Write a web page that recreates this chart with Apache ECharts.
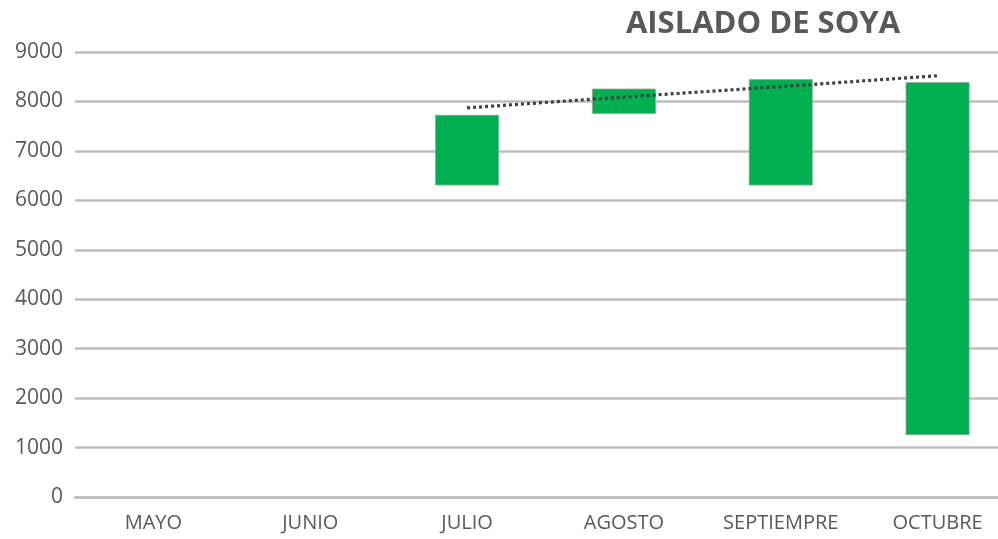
<!DOCTYPE html>
<html>
<head>
<meta charset="utf-8">
<script src="https://cdn.jsdelivr.net/npm/echarts@6/dist/echarts.min.js"></script>
<style>html,body{margin:0;padding:0;background:#fff;overflow:hidden;width:998px;height:539px;}#c{width:1016px;height:539px;}</style>
</head>
<body>
<div id="c"></div>
<script>
var categories = ['MAYO', 'JUNIO', 'JULIO', 'AGOSTO', 'SEPTIEMPRE', 'OCTUBRE'];
var barLow  = [null, null, 6300, 7750, 6300, 1250];
var barHigh = [null, null, 7730, 8260, 8450, 8390];
var trendValues = [null, null, 7870, 8090, 8300, 8520];
var yTicks = [0, 1000, 2000, 3000, 4000, 5000, 6000, 7000, 8000, 9000];

var barSpan = barHigh.map(function (h, i) { return (h == null || barLow[i] == null) ? null : h - barLow[i]; });

var chart = echarts.init(document.getElementById('c'), null, {renderer: 'canvas'});
chart.setOption({
  animation: false,
  backgroundColor: '#ffffff',
  title: {
    text: 'AISLADO DE SOYA',
    left: 758, top: 4, textAlign: 'center',
    textStyle: {fontFamily: 'Open Sans', fontWeight: 'bold', fontSize: 31, color: '#595959'}
  },
  grid: {left: 75, right: 0, top: 52, bottom: 42, containLabel: false},
  xAxis: {
    type: 'category', data: categories,
    axisLine: {show: true, lineStyle: {color: '#bfbfbf', width: 2.5}},
    axisTick: {show: false},
    axisLabel: {color: '#595959', fontSize: 20, fontFamily: 'Open Sans', margin: 16}
  },
  yAxis: {
    type: 'value', min: yTicks[0], max: yTicks[yTicks.length - 1], interval: 1000,
    axisLine: {show: false}, axisTick: {show: false},
    axisLabel: {color: '#595959', fontSize: 21, fontFamily: 'Open Sans', margin: 12,
      formatter: function (v) { return String(v); }},
    splitLine: {lineStyle: {color: '#bfbfbf', width: 2.5}}
  },
  series: [
    {
      type: 'bar', stack: 'w', data: barLow, barWidth: 64,
      itemStyle: {color: 'transparent'}, silent: true
    },
    {
      type: 'bar', stack: 'w', data: barSpan, barWidth: 64,
      itemStyle: {color: '#00b050', borderColor: '#9aa69f', borderWidth: 0.8}
    },
    {
      type: 'line', data: trendValues, symbol: 'none', connectNulls: true,
      lineStyle: {color: '#404040', width: 3.2, type: [3, 3]}, z: 5
    }
  ]
});
</script>
</body>
</html>
